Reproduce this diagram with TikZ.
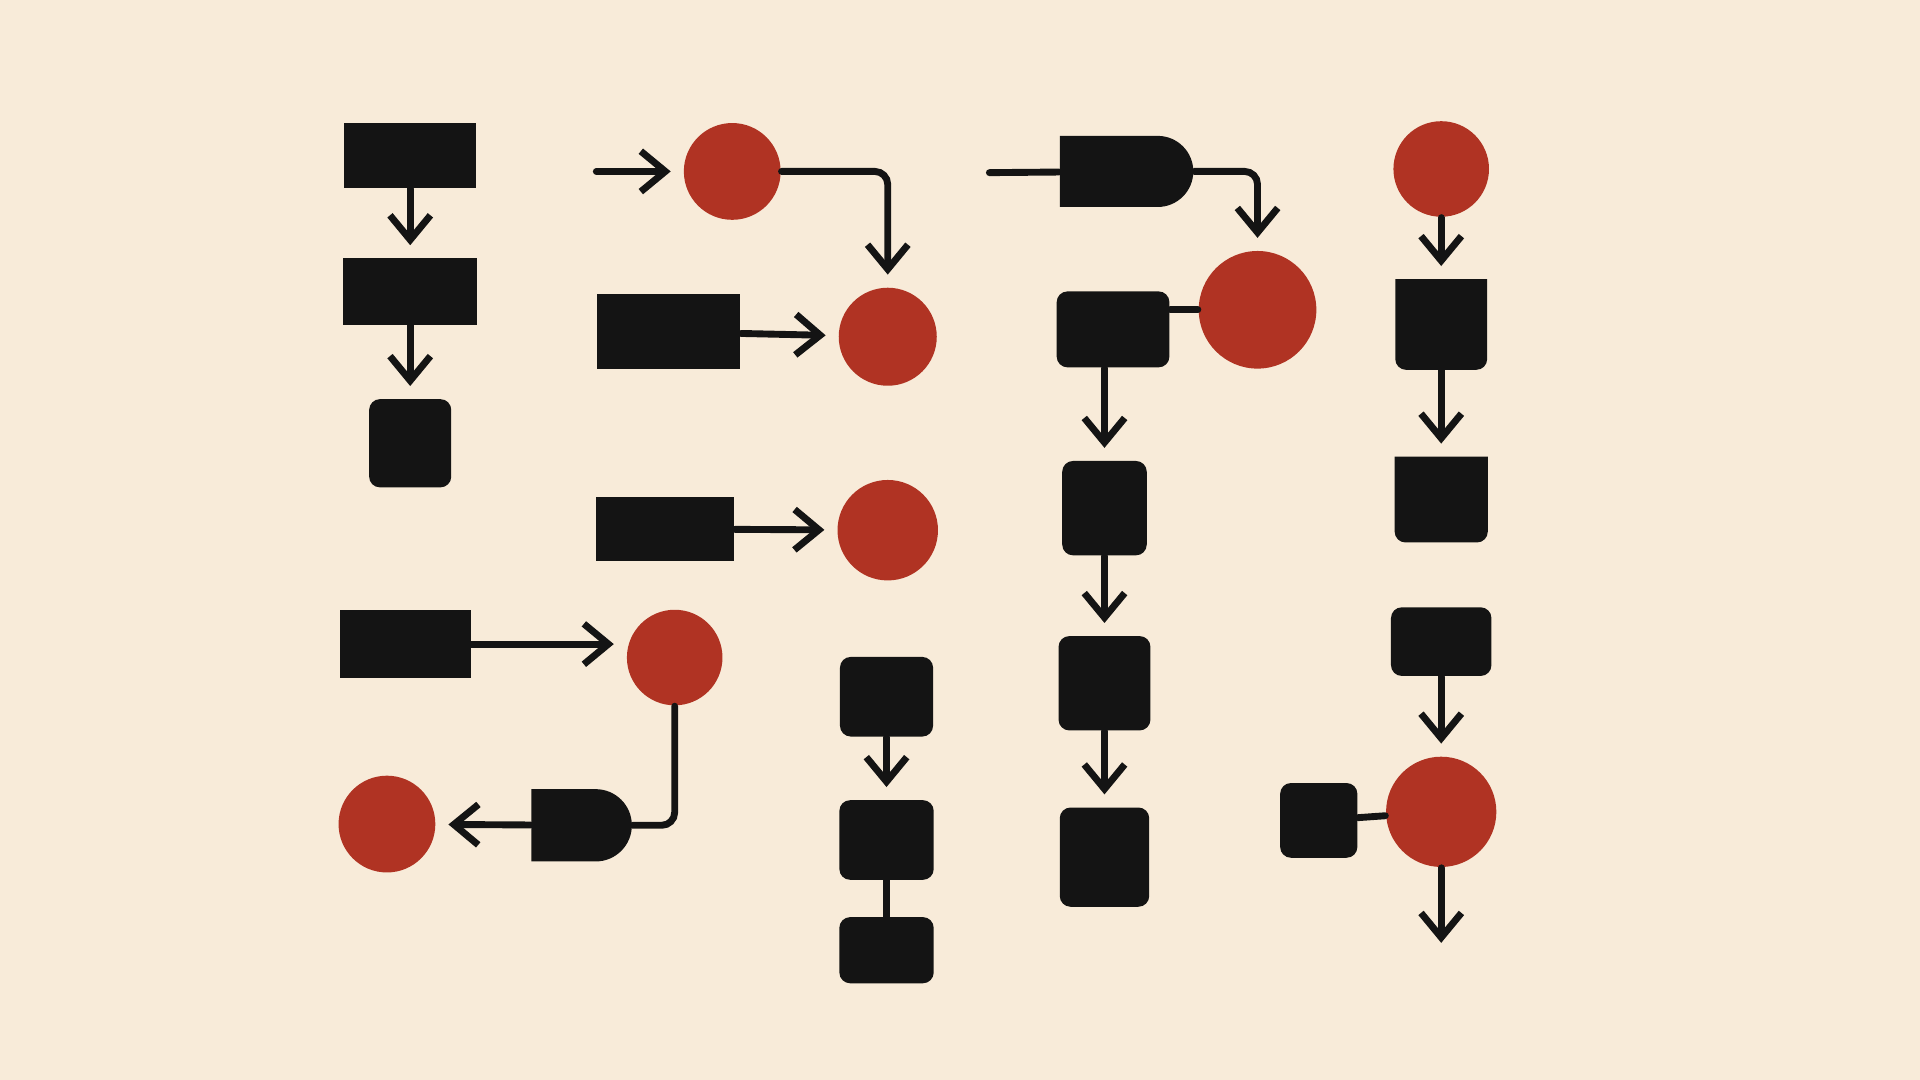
\documentclass[tikz,border=0pt]{standalone}
\usetikzlibrary{arrows.meta,shapes.misc}
\definecolor{Paper}{HTML}{F8EBD9}
\definecolor{Ink}{HTML}{141414}
\definecolor{Brick}{HTML}{B03323}

\begin{document}
\begin{tikzpicture}[x=0.01cm, y=-0.01cm]

  \tikzstyle{block}=[rectangle, fill=Ink, inner sep=0pt]
  \tikzstyle{soft block}=[block, rounded corners=2.5pt]
  \tikzstyle{cup block}=[rectangle, fill=Paper, inner sep=0pt,
    path picture={
      \fill[Ink] (path picture bounding box.north west) -- (path picture bounding box.north east)
        -- ([yshift=2.5pt]path picture bounding box.south east) arc[start angle=0, end angle=-90, radius=2.5pt]
        -- ([xshift=2.5pt]path picture bounding box.south west) arc[start angle=270, end angle=180, radius=2.5pt]
        -- cycle;}]
  \tikzstyle{gate}=[rounded rectangle, rounded rectangle left arc=none, fill=Ink, inner sep=0pt]
  \tikzstyle{dot}=[circle, fill=Brick, inner sep=0pt]
  \tikzstyle{link}=[draw=Ink, line width=1.6pt, line cap=round, rounded corners=3pt]
  \tikzstyle{flow}=[link, -{Straight Barb[length=2mm, width=3.3mm]}, shorten >=1mm]

  % Paper
  \fill[Paper] (0,0) rectangle (1568,882);

  % First column of plain blocks
  \node[block, minimum width=1.08cm, minimum height=0.53cm] (R1) at (335,127) {};
  \node[block, minimum width=1.09cm, minimum height=0.54cm] (R2) at (335,238) {};
  \node[soft block, minimum width=0.67cm, minimum height=0.72cm] (R3) at (335,362) {};
  \node[block, minimum width=1.07cm, minimum height=0.56cm] (R6) at (331,526) {};
  \node[gate, minimum width=0.82cm, minimum height=0.59cm] (D1) at (475,674) {};

  % Blocks feeding the red dots
  \node[block, minimum width=1.17cm, minimum height=0.61cm] (R4) at (546,271) {};
  \node[block, minimum width=1.13cm, minimum height=0.53cm] (R5) at (543,432) {};

  % Red dots
  \node[dot, minimum size=0.79cm] (C1) at (598,140) {};
  \node[dot, minimum size=0.80cm] (C2) at (725,275) {};
  \node[dot, minimum size=0.82cm] (C3) at (725,433) {};
  \node[dot, minimum size=0.78cm] (C4) at (551,537) {};
  \node[dot, minimum size=0.79cm] (C5) at (316,673) {};
  \node[dot, minimum size=0.96cm] (C6) at (1027,253) {};
  \node[dot, minimum size=0.78cm] (C7) at (1177,138) {};
  \node[dot, minimum size=0.90cm] (C8) at (1177,663) {};

  % Middle stack
  \node[soft block, minimum width=0.76cm, minimum height=0.65cm] (S1) at (724,569) {};
  \node[soft block, minimum width=0.77cm, minimum height=0.65cm] (S2) at (724,686) {};
  \node[soft block, minimum width=0.77cm, minimum height=0.54cm] (S3) at (724,776) {};

  % Fourth column
  \node[gate, minimum width=1.09cm, minimum height=0.58cm] (D2) at (920,140) {};
  \node[soft block, minimum width=0.92cm, minimum height=0.62cm] (S4) at (909,269) {};
  \node[soft block, minimum width=0.69cm, minimum height=0.77cm] (S5) at (902,415) {};
  \node[soft block, minimum width=0.75cm, minimum height=0.77cm] (S6) at (902,558) {};
  \node[soft block, minimum width=0.73cm, minimum height=0.81cm] (S7) at (902,700) {};

  % Last column
  \node[cup block, minimum width=0.75cm, minimum height=0.74cm] (S8) at (1177,265) {};
  \node[cup block, minimum width=0.76cm, minimum height=0.70cm] (S9) at (1177,408) {};
  \node[soft block, minimum width=0.82cm, minimum height=0.56cm] (S10) at (1177,524) {};
  \node[soft block, minimum width=0.63cm, minimum height=0.61cm] (S11) at (1077,670) {};

  % Loose ends
  \coordinate (in1) at (487,140);
  \coordinate (in2) at (808,141);
  \coordinate (out1) at (1177,780);

  % Straight downward arrows
  \foreach \source/\dest in {R1/R2, R2/R3, S1/S2, S5/S6, S6/S7, C7/S8, S8/S9, S10/C8}
      \draw[flow] (\source) -- (\dest);

  % Sideways arrows
  \draw[flow] (in1) -- (C1);
  \draw[flow] (R4) -- (C2);
  \draw[flow] (R5) -- (C3);
  \draw[flow] (R6.east) -- (R6.east -| C4.west);
  \draw[flow] (D1) -- (C5);

  % Elbows
  \draw[flow] (C1.east) -| (C2.north);
  \draw[flow] (D2.east) -| (C6.north);
  \draw[link] (C4.south) |- (D1.east);

  % Plain links
  \draw[link] (in2) -- (D2);
  \draw[link] (S4.east |- C6) -- (C6);
  \draw[link] (S11) -- (C8);
  \draw[link] (S2) -- (S3);
  \draw[flow] (S5 |- S4.south) -- (S5);
  \draw[flow] (C8) -- (out1);

\end{tikzpicture}
\end{document}
